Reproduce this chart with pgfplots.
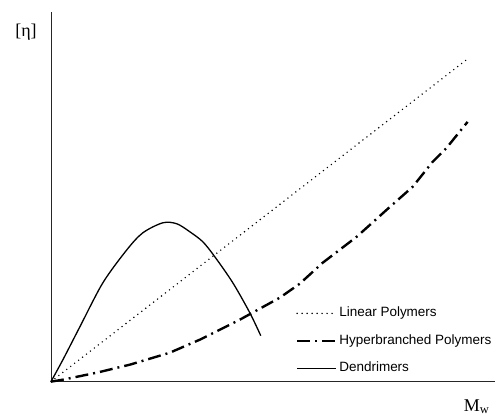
\documentclass[border=0pt]{standalone}
\usepackage{fontspec}
\setmainfont{Liberation Serif}
\newfontfamily\arial{Liberation Sans}
\usepackage{pgfplots}
\pgfplotsset{compat=1.18}
\begin{document}
\begin{tikzpicture}
\begin{axis}[
  scale only axis, width=444pt, height=370pt,
  xmin=0, xmax=444, ymin=0, ymax=370,
  axis x line=bottom, axis y line=left,
  axis line style={-, line width=0.9pt, black!85},
  ticks=none, clip=false,
  legend style={at={(axis cs:245,77)}, anchor=north west, draw=none, fill=none,
    inner sep=0pt, row sep=10.5pt, font={\arial\fontsize{13.5}{15}\selectfont},
    nodes={inner sep=2pt, text height=10pt, text depth=3pt}},
  legend cell align=left,
  legend image code/.code={\draw[#1] (0pt,0pt) -- (39pt,0pt);},
]
\addplot[black, line width=1.6pt, line cap=round, dash pattern=on 0pt off 5pt] coordinates {(0,0) (417,323)};
\addlegendentry{Linear Polymers}
\addplot[black, line width=2.4pt, dash pattern=on 13pt off 5pt on 2pt off 5pt] coordinates {
(0,0) (12,2) (46,9) (79,17) (119,29) (149,42) (189,62) (229,84) (249,98) (272,119) (306,145) (336,172) (362,195) (382,220) (396,234) (417,260)};
\addlegendentry{Hyperbranched Polymers}
\addplot[black, line width=1.3pt, smooth] coordinates {
(0,0) (12,22) (29,55) (52,99) (76,132) (92,149) (112,159) (126,158) (139,150) (152,140) (164,125) (182,99) (199,69) (210,46)};
\addlegendentry{Dendrimers}
\node at (axis cs:-25,350) {\fontsize{18}{20}\selectfont [η]};
\node at (axis cs:426,-25) {\fontsize{18}{20}\selectfont M\textsubscript{w}};
\path (axis cs:-51,-34) rectangle (axis cs:444,382);
\end{axis}
\end{tikzpicture}
\end{document}
